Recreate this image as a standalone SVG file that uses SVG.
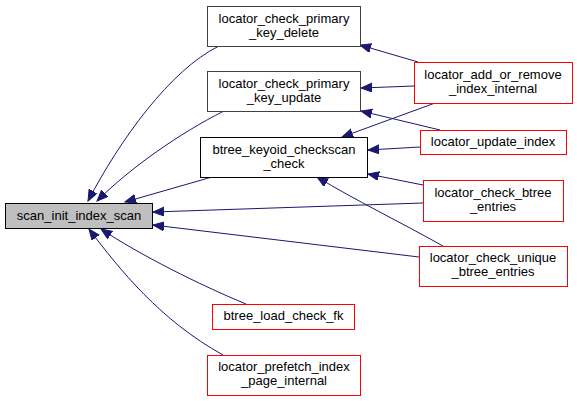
<svg xmlns="http://www.w3.org/2000/svg" width="577" height="401" viewBox="0 0 577 401">
<defs>
<style>
.n rect{fill:#fff;stroke:#000;stroke-width:1}
.n.g rect{stroke:#404040}
.n.r rect{stroke:#ff0000}
.n.root rect{fill:#bfbfbf;stroke:#000}
.n text{font-family:"Liberation Sans",Arial,sans-serif;font-size:13px;fill:#000;text-anchor:middle}
.e path{fill:none;stroke:#191970;stroke-width:1;marker-end:url(#ah)}
</style>
<marker id="ah" markerUnits="userSpaceOnUse" markerWidth="12" markerHeight="10" refX="11" refY="4.5" orient="auto" viewBox="0 0 12 10">
<path d="M0,0 L11,4.5 L0,9 z" fill="#191970" stroke="#191970" stroke-width="1"/>
</marker>
</defs>
<rect width="577" height="401" fill="#fff"/>
<g id="edges" class="e">
<path d="M219,46 C170,70 120,140 88,201"/>
<path d="M224,111 C180,133 130,168 97,201"/>
<path d="M212,177 L125,202"/>
<path d="M423,203 L153,212"/>
<path d="M419,257 L153,225"/>
<path d="M246,304 C200,285 140,255 101,229"/>
<path d="M223,355 C160,320 120,270 89,229"/>
<path d="M418,62 L360,45"/>
<path d="M414,86 L361,88"/>
<path d="M435,103 L342,137"/>
<path d="M440,130 L361,111"/>
<path d="M420,147 L368,150"/>
<path d="M423,185 L368,174"/>
<path d="M443,246 C400,222 355,200 317,177"/>
</g>
<g id="scan_init_index_scan" class="n root"><rect x="5.5" y="203.5" width="147" height="25"/><text x="79" y="220">scan_init_index_scan</text></g>
<g id="locator_check_primary_key_delete" class="n g"><rect x="207.5" y="6.5" width="153" height="40"/><text x="284" y="23">locator_check_primary</text><text x="284" y="37">_key_delete</text></g>
<g id="locator_check_primary_key_update" class="n g"><rect x="207.5" y="71.5" width="153" height="40"/><text x="284" y="88">locator_check_primary</text><text x="284" y="102">_key_update</text></g>
<g id="btree_keyoid_checkscan_check" class="n"><rect x="200.5" y="137.5" width="167" height="40"/><text x="284" y="154">btree_keyoid_checkscan</text><text x="284" y="168">_check</text></g>
<g id="locator_add_or_remove_index_internal" class="n r"><rect x="414.5" y="62.5" width="158" height="41"/><text x="493" y="79">locator_add_or_remove</text><text x="493" y="93">_index_internal</text></g>
<g id="locator_update_index" class="n r"><rect x="420.5" y="130.5" width="146" height="24"/><text x="493" y="146">locator_update_index</text></g>
<g id="locator_check_btree_entries" class="n r"><rect x="423.5" y="180.5" width="140" height="41"/><text x="493" y="197">locator_check_btree</text><text x="493" y="211">_entries</text></g>
<g id="locator_check_unique_btree_entries" class="n r"><rect x="419.5" y="246.5" width="148" height="40"/><text x="493" y="262">locator_check_unique</text><text x="493" y="276">_btree_entries</text></g>
<g id="btree_load_check_fk" class="n r"><rect x="212.5" y="304.5" width="142" height="25"/><text x="283.5" y="320">btree_load_check_fk</text></g>
<g id="locator_prefetch_index_page_internal" class="n r"><rect x="207.5" y="355.5" width="153" height="40"/><text x="284" y="371">locator_prefetch_index</text><text x="284" y="385">_page_internal</text></g>
</svg>
